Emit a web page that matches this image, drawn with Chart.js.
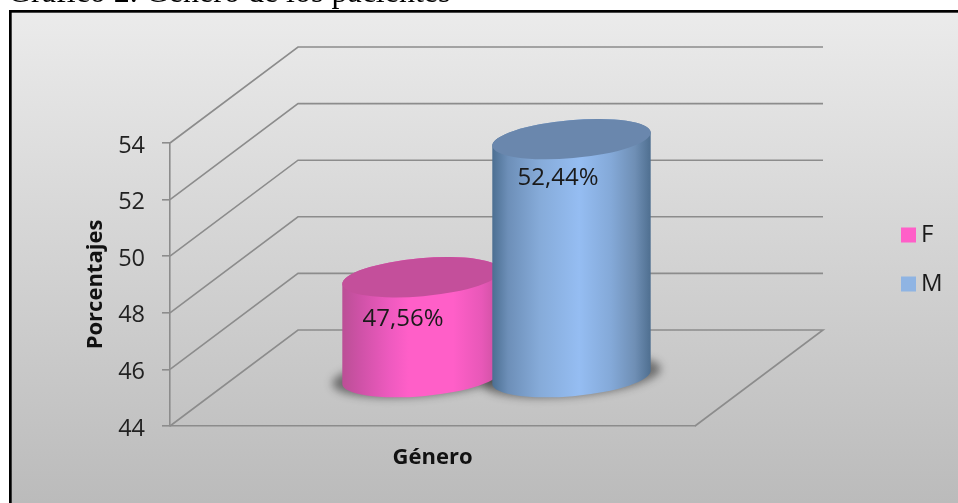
<!DOCTYPE html>
<html lang="es">
<head>
<meta charset="utf-8">
<title>Gráfico 2</title>
<style>
html,body{margin:0;padding:0;background:#fff;width:958px;height:503px;overflow:hidden}
#t{position:absolute;left:8px;top:-27px;font:32px "Liberation Serif",serif;color:#000;white-space:nowrap;z-index:2;line-height:36px}
canvas{position:absolute;left:0;top:0;display:block}
</style>
<script src="https://cdn.jsdelivr.net/npm/chart.js@4/dist/chart.umd.min.js"></script>
</head>
<body>
<div id="t">Gráfico 2. Género de los pacientes</div>
<canvas id="c" width="958" height="503"></canvas>
<script>
const categories = ['Género'];
const seriesNames = ['F', 'M'];
const valuesF = [47.56];
const valuesM = [52.44];
const yTicks = [44, 46, 48, 50, 52, 54];
const colorsSolid = ['#FF5FC8', '#8FB4E3'];

const FONT = '"Open Sans", "Noto Sans", sans-serif';
const DX = 128, DY = 96;          // depth of the 3D box
const LEG_W = 100;
const GRID = '#8c8c8c';

const palettes = [
  {top:'#c44f9b', stops:[[0,'#bb4f96'],[.12,'#d052a8'],[.3,'#ee5abf'],[.42,'#ff5fc8'],[.7,'#ff5fc8'],[.88,'#e858b8'],[1,'#c8509e']]},
  {top:'#6a87ad', stops:[[0,'#4c6f92'],[.1,'#6d8fb8'],[.3,'#86abd9'],[.55,'#95bdf2'],[.75,'#84a9d8'],[.9,'#6f8fb5'],[1,'#4f6f90']]}
];

const frame = {
  id:'frame',
  beforeDraw(chart){
    const c = chart.ctx, W = chart.width, H = chart.height;
    c.save();
    c.fillStyle = '#000';
    c.fillRect(9, 10, W, H);
    const g = c.createLinearGradient(0, 12, 0, H);
    g.addColorStop(0, '#ebebeb');
    g.addColorStop(1, '#bbbbbb');
    c.fillStyle = g;
    c.fillRect(11.7, 12.7, W, H);
    c.restore();
  },
  afterLayout(chart){
    const L = chart.legend;
    L.left = 883; L.right = 1500;
    L.top = 198;  L.bottom = 1500;
    const y = chart.scales.y;
    if (!y._nudged){
      const d = y.drawLabels;
      y.drawLabels = function(area){
        chart.ctx.save();
        chart.ctx.translate(0, 3);
        d.call(this, area);
        chart.ctx.restore();
      };
      y._nudged = true;
    }
  }
};

const box3d = {
  id:'box3d',
  beforeLayout(chart){
    const L = chart.legend;
    if (L && !L._fixedW){
      const f = L.fit;
      L.fit = function(){ f.call(this); this.width = LEG_W; };
      L._fixedW = true;
    }
  },
  beforeDatasetsDraw(chart){
    const c = chart.ctx, y = chart.scales.y, a = chart.chartArea;
    c.save();
    c.strokeStyle = GRID;
    c.lineWidth = 1.6;
    y.ticks.forEach(t => {
      const py = y.getPixelForValue(t.value);
      c.beginPath();
      c.moveTo(a.left, py);
      c.lineTo(a.left + DX, py - DY);
      c.lineTo(a.right + DX, py - DY);
      if (t.value === y.min) c.lineTo(a.right, py);
      c.stroke();
    });
    // shadows
    const rot = -5 * Math.PI / 180;
    chart.data.datasets.forEach((d, i) => {
      const el = chart.getDatasetMeta(i).data[0];
      const cx = el.x + DX / 2, by = el.base - DY / 2, rx = el.width * 0.53, ry = 19;
      c.save();
      c.filter = 'blur(4px)';
      c.fillStyle = 'rgba(20,20,20,0.5)';
      c.beginPath();
      c.ellipse(cx, by - 1, rx + 10, ry + 1, rot, 0, Math.PI * 2);
      c.fill();
      c.restore();
    });
    // cylinders
    chart.data.datasets.forEach((d, i) => {
      const el = chart.getDatasetMeta(i).data[0];
      const p = palettes[i];
      const cx = el.x + DX / 2, ty = el.y - DY / 2, by = el.base - DY / 2, rx = el.width * 0.53, ry = 19;
      const ex = rx * Math.cos(rot), ey = rx * Math.sin(rot);
      const g = c.createLinearGradient(cx - ex, 0, cx + ex, 0);
      p.stops.forEach(s => g.addColorStop(s[0], s[1]));
      c.fillStyle = g;
      c.beginPath();
      c.moveTo(cx - ex, ty - ey);
      c.lineTo(cx - ex, by - ey);
      c.ellipse(cx, by, rx, ry, rot, Math.PI, 0, true);
      c.lineTo(cx + ex, ty + ey);
      c.ellipse(cx, ty, rx, ry, rot, 0, Math.PI, true);
      c.closePath();
      c.fill();
      c.fillStyle = p.top;
      c.beginPath();
      c.ellipse(cx, ty, rx, ry, rot, 0, Math.PI * 2);
      c.fill();
    });
    // value labels
    c.fillStyle = '#1a1a1a';
    c.font = '24px ' + FONT;
    c.textAlign = 'center';
    c.textBaseline = 'middle';
    chart.data.datasets.forEach((d, i) => {
      const el = chart.getDatasetMeta(i).data[0];
      const txt = d.data[0].toFixed(2).replace('.', ',') + '%';
      c.fillText(txt, el.x + 48 + (i ? 2.5 : -2.5), el.y + (i ? -9 : -6));
    });
    c.restore();
    return false;
  }
};

new Chart(document.getElementById('c'), {
  type:'bar',
  data:{
    labels:categories,
    datasets:[
      {label:seriesNames[0], data:valuesF, backgroundColor:colorsSolid[0], base:yTicks[0]},
      {label:seriesNames[1], data:valuesM, backgroundColor:colorsSolid[1], base:yTicks[0]}
    ]
  },
  plugins:[frame, box3d],
  options:{
    responsive:false,
    animation:false,
    layout:{padding:{left:83, top:143, right:958 - 695 - LEG_W, bottom:32}},
    datasets:{bar:{categoryPercentage:0.5714, barPercentage:1}},
    plugins:{
      tooltip:{enabled:false},
      title:{display:false},
      legend:{
        position:'right',
        align:'start',
        labels:{
          usePointStyle:true, pointStyle:'rect',
          boxWidth:1, boxHeight:15, padding:25, color:'#1a1a1a',
          font:{family:FONT, size:24}
        }
      }
    },
    scales:{
      x:{
        afterFit:s=>{s.height = 45;},
        grid:{display:false},
        border:{display:true, color:GRID, width:1.6},
        ticks:{display:false},
        title:{display:true, text:'Género', color:'#111', padding:0,
          font:{family:FONT, size:22, weight:'bold'}}
      },
      y:{
        min:44, max:54,
        afterFit:s=>{s.width = 87;},
        afterBuildTicks:s=>{s.ticks = yTicks.map(v=>({value:v}));},
        grid:{drawOnChartArea:false, drawTicks:true, tickLength:8, color:GRID, lineWidth:1.6},
        border:{display:true, color:GRID, width:1.6},
        ticks:{padding:17, color:'#222', font:{family:FONT, size:23.5}},
        title:{display:true, text:'Porcentajes', color:'#111', padding:0,
          font:{family:FONT, size:22, weight:'bold'}}
      }
    }
  }
});
</script>
</body>
</html>
